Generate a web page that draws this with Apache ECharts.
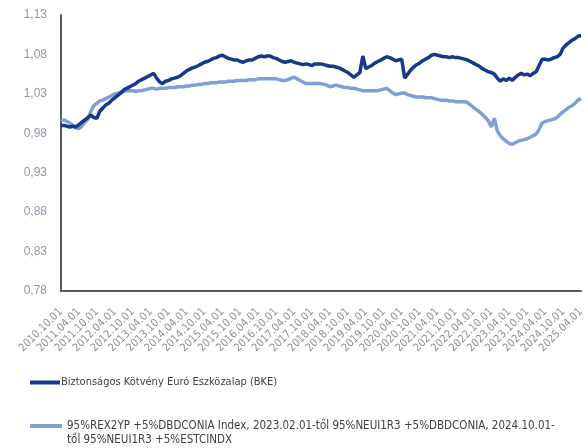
<!DOCTYPE html>
<html>
<head>
<meta charset="utf-8">
<script src="https://cdn.jsdelivr.net/npm/echarts@6/dist/echarts.min.js"></script>
<style>
  html, body { margin: 0; padding: 0; background: #fff; }
  #chart { width: 587px; height: 448px; }
</style>
</head>
<body>
<div id="chart"></div>
<script>
/* ---------- adatok ---------- */
var seriesNames = [
    'Biztonságos Kötvény Euró Eszközalap (BKE)',
    '95%REX2YP +5%DBDCONIA Index, 2023.02.01-től 95%NEUI1R3 +5%DBDCONIA, 2024.10.01-től 95%NEUI1R3 +5%ESTCINDX'
];

// havi értékek 2010.10 - 2025.04
var bkeValues = [
    0.990,0.990,0.989,0.988,0.989,0.988,0.991,0.994,0.997,1.000,1.003,1.000,
    0.999,1.008,1.012,1.016,1.018,1.022,1.025,1.028,1.031,1.035,1.037,1.039,
    1.041,1.043,1.046,1.048,1.050,1.052,1.054,1.056,1.050,1.045,1.043,1.046,
    1.047,1.049,1.050,1.051,1.053,1.056,1.059,1.061,1.063,1.064,1.066,1.068,
    1.070,1.071,1.073,1.075,1.076,1.078,1.079,1.077,1.075,1.074,1.073,1.073,
    1.071,1.070,1.072,1.073,1.073,1.075,1.077,1.078,1.077,1.078,1.078,1.076,
    1.075,1.073,1.071,1.070,1.071,1.072,1.070,1.069,1.068,1.067,1.068,1.067,
    1.066,1.068,1.068,1.068,1.067,1.066,1.065,1.065,1.064,1.063,1.061,1.059,
    1.057,1.054,1.051,1.054,1.057,1.078,1.062,1.064,1.066,1.069,1.071,1.073,
    1.075,1.077,1.076,1.074,1.072,1.073,1.074,1.050,1.055,1.060,1.064,1.067,
    1.069,1.072,1.074,1.076,1.079,1.080,1.079,1.078,1.077,1.077,1.076,1.077,
    1.076,1.076,1.075,1.074,1.073,1.071,1.069,1.067,1.065,1.062,1.060,1.058,
    1.057,1.055,1.050,1.046,1.049,1.047,1.050,1.047,1.051,1.054,1.056,1.054,
    1.055,1.053,1.056,1.058,1.066,1.074,1.074,1.073,1.074,1.076,1.077,1.080,
    1.088,1.092,1.095,1.098,1.100,1.103,1.104
];

var benchmarkValues = [
    0.996,0.997,0.995,0.993,0.990,0.987,0.986,0.989,0.994,0.998,1.008,1.015,
    1.018,1.021,1.022,1.024,1.026,1.028,1.030,1.031,1.032,1.033,1.034,1.034,
    1.034,1.033,1.034,1.034,1.035,1.036,1.037,1.037,1.036,1.037,1.037,1.037,
    1.038,1.038,1.038,1.039,1.039,1.039,1.040,1.040,1.041,1.041,1.042,1.042,
    1.043,1.043,1.044,1.044,1.044,1.045,1.045,1.045,1.046,1.046,1.046,1.047,
    1.047,1.047,1.047,1.048,1.048,1.048,1.049,1.049,1.049,1.049,1.049,1.049,
    1.049,1.048,1.047,1.047,1.048,1.050,1.051,1.049,1.047,1.045,1.043,1.043,
    1.043,1.043,1.043,1.043,1.042,1.041,1.039,1.040,1.041,1.040,1.039,1.038,
    1.038,1.037,1.037,1.036,1.035,1.034,1.034,1.034,1.034,1.034,1.034,1.035,
    1.036,1.037,1.034,1.031,1.029,1.030,1.031,1.031,1.029,1.028,1.027,1.026,
    1.026,1.026,1.025,1.025,1.025,1.024,1.023,1.022,1.022,1.022,1.021,1.021,
    1.020,1.020,1.020,1.020,1.019,1.016,1.013,1.010,1.007,1.004,1.000,0.996,
    0.988,0.999,0.983,0.977,0.973,0.970,0.967,0.966,0.968,0.970,0.971,0.972,
    0.973,0.975,0.977,0.979,0.985,0.993,0.995,0.996,0.997,0.998,1.000,1.004,
    1.007,1.010,1.013,1.015,1.018,1.022,1.024
];

var yTickLabels = [0.78, 0.83, 0.88, 0.93, 0.98, 1.03, 1.08, 1.13];

var xTickLabels = [
    '2010.10.01','2011.04.01','2011.10.01','2012.04.01','2012.10.01','2013.04.01',
    '2013.10.01','2014.04.01','2014.10.01','2015.04.01','2015.10.01','2016.04.01',
    '2016.10.01','2017.04.01','2017.10.01','2018.04.01','2018.10.01','2019.04.01',
    '2019.10.01','2020.04.01','2020.10.01','2021.04.01','2021.10.01','2022.04.01',
    '2022.10.01','2023.04.01','2023.10.01','2024.04.01','2024.10.01','2025.04.01'
];

// havi kategóriák
var categories = [];
(function () {
    var y = 2010, m = 10;
    for (var i = 0; i < bkeValues.length; i++) {
        categories.push(y + '.' + (m < 10 ? '0' + m : m) + '.01');
        m++;
        if (m > 12) { m = 1; y++; }
    }
})();

/* ---------- chart ---------- */
var chart = echarts.init(document.getElementById('chart'), null, { renderer: 'canvas' });

var font = '"Liberation Sans Narrow", "DejaVu Sans Condensed", sans-serif';
var darkBlue = '#17398a';
var lightBlue = '#7f9fd5';

var option = {
    animation: false,
    backgroundColor: '#fff',
    textStyle: { fontFamily: font },
    grid: { left: 61, right: 6, top: 15, bottom: 157, containLabel: false },
    legend: [{
        data: [seriesNames[0]],
        left: 30,
        top: 377,
        padding: 0,
        icon: 'rect',
        itemWidth: 30,
        itemHeight: 4,
        itemGap: 0,
        textStyle: { fontFamily: font, fontSize: 11, color: '#404040', padding: [0, 0, 0, -4] }
    }, {
        data: [seriesNames[1]],
        left: 30,
        top: 405,
        padding: 0,
        icon: 'rect',
        itemWidth: 32,
        itemHeight: 4,
        formatter: function (name) {
            // első üres sor: az ikon az első szövegsorral legyen egy magasságban
            return ' \n' + name.replace('2024.10.01-től', '2024.10.01-\ntől');
        },
        textStyle: {
            fontFamily: font, fontSize: 11.5, color: '#404040',
            lineHeight: 14
        }
    }],
    xAxis: {
        type: 'category',
        data: categories,
        boundaryGap: false,
        axisLine: { lineStyle: { color: '#595959', width: 2 } },
        axisTick: { show: false },
        splitLine: { show: false },
        axisLabel: {
            rotate: 45,
            margin: 19,
            fontSize: 11,
            color: '#8f8f8f',
            fontFamily: font,
            interval: function (idx, val) {
                return xTickLabels.indexOf(val) >= 0;
            }
        }
    },
    yAxis: {
        type: 'value',
        min: 0.78,
        max: 1.13,
        interval: 0.01,
        axisLine: { show: true, lineStyle: { color: '#595959', width: 2 } },
        axisTick: { show: false },
        splitLine: { show: false },
        axisLabel: {
            margin: 14,
            fontSize: 12,
            color: '#8d97a8',
            fontFamily: '"Liberation Sans", sans-serif',
            formatter: function (v) {
                var k = Math.round(v * 100);
                for (var i = 0; i < yTickLabels.length; i++) {
                    if (Math.round(yTickLabels[i] * 100) === k) {
                        return yTickLabels[i].toFixed(2).replace('.', ',');
                    }
                }
                return '';
            }
        }
    },
    series: [{
        name: seriesNames[1],
        type: 'line',
        data: benchmarkValues,
        showSymbol: false,
        lineStyle: { color: lightBlue, width: 3.5 },
        itemStyle: { color: lightBlue },
        z: 2
    }, {
        name: seriesNames[0],
        type: 'line',
        data: bkeValues,
        showSymbol: false,
        lineStyle: { color: darkBlue, width: 3.5 },
        itemStyle: { color: darkBlue },
        z: 3
    }]
};

chart.setOption(option);
</script>
</body>
</html>
